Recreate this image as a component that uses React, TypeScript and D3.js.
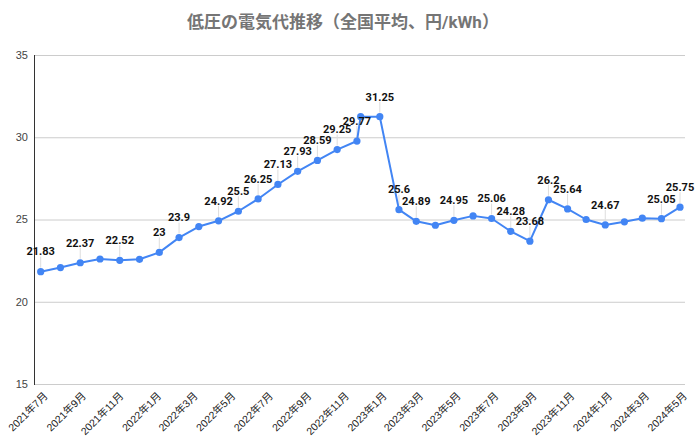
import React from "react";
import * as d3 from "d3";

const title = "低圧の電気代推移（全国平均、円/kWh）";

// Observation dates (as placed on the reference's date axis)
const dates = [
  "2021-07-01", "2021-08-02", "2021-09-03", "2021-10-05", "2021-11-06", "2021-12-08",
  "2022-01-09", "2022-02-10", "2022-03-14", "2022-04-15", "2022-05-17", "2022-06-18",
  "2022-07-20", "2022-08-21", "2022-09-22", "2022-10-24", "2022-11-25",
  "2022-12-01", "2023-01-01", "2023-02-01", "2023-03-01", "2023-04-01", "2023-05-01",
  "2023-06-01", "2023-07-01", "2023-08-01", "2023-09-01", "2023-10-01", "2023-11-01",
  "2023-12-01", "2024-01-01", "2024-02-01", "2024-03-01", "2024-04-01", "2024-05-01",
];

const prices = [
  21.83, 22.08, 22.37, 22.6, 22.52, 22.58,
  23, 23.9, 24.57, 24.92, 25.5, 26.25,
  27.13, 27.93, 28.59, 29.25, 29.77,
  31.25, 31.25, 25.6, 24.89, 24.65, 24.95,
  25.22, 25.06, 24.28, 23.68, 26.2, 25.64,
  25.0, 24.67, 24.86, 25.08, 25.05, 25.75,
];

// indices of points whose data label is displayed
const labeledIdx = [0, 2, 4, 6, 7, 9, 10, 11, 12, 13, 14, 15, 16, 18, 19, 20, 22, 24, 25, 26, 27, 28, 30, 33, 34];

const yTicks = [15, 20, 25, 30, 35];
const xTickMonths = [
  "2021-07", "2021-09", "2021-11", "2022-01", "2022-03", "2022-05", "2022-07", "2022-09", "2022-11",
  "2023-01", "2023-03", "2023-05", "2023-07", "2023-09", "2023-11", "2024-01", "2024-03", "2024-05",
];

const parseDay = d3.timeParse("%Y-%m-%d");
const parseMonth = d3.timeParse("%Y-%m");

const W = 700;
const H = 441;
const plotLeft = 34;
const plotRight = 685;
const plotTop = 55;
const plotBottom = 384;

const LATIN = "Roboto, 'Noto Sans CJK JP', sans-serif";
const AX = "'Liberation Sans', Arial, 'Noto Sans CJK JP', sans-serif";

export default function App() {
  const data = dates.map((d, i) => ({ date: parseDay(d) as Date, v: prices[i], i }));
  const x = d3
    .scaleTime()
    .domain([parseMonth(xTickMonths[0]) as Date, parseMonth(xTickMonths[xTickMonths.length - 1]) as Date])
    .range([40.7, 680]);
  const y = d3.scaleLinear().domain([15, 35]).range([plotBottom, plotTop]);

  const line = d3
    .line<{ date: Date; v: number }>()
    .x((d) => x(d.date))
    .y((d) => y(d.v));

  const fmtTick = (d: Date) => `${d.getFullYear()}年${d.getMonth() + 1}月`;

  return (
    <div style={{ position: "fixed", left: 0, top: 0 }}>
      <svg width={W} height={H} style={{ display: "block", background: "#fff" }}>
        <rect x={0} y={0} width={W} height={H} fill="#fff" />
        <text
          x={343}
          y={28}
          textAnchor="middle"
          fontFamily={LATIN}
          fontWeight="bold"
          fontSize={17}
          fill="#757575"
        >
          {title}
        </text>

        {/* gridlines */}
        {yTicks.map((t) => (
          <g key={t}>
            <line x1={plotLeft} x2={plotRight} y1={y(t) + 0.5} y2={y(t) + 0.5} stroke="#cccccc" strokeWidth={1} />
            <text
              x={28}
              y={y(t)}
              dy="0.35em"
              textAnchor="end"
              fontFamily={AX}
              fontSize={11}
              fill="#444"
            >
              {t}
            </text>
          </g>
        ))}
        <line x1={plotLeft + 0.5} x2={plotLeft + 0.5} y1={plotTop} y2={plotBottom + 1} stroke="#333" strokeWidth={1} />

        {/* x tick labels */}
        {xTickMonths.map((m) => {
          const d = parseMonth(m) as Date;
          const px = x(d);
          return (
            <text
              key={m}
              transform={`translate(${px + 5},${plotBottom + 10}) rotate(-45)`}
              textAnchor="end"
              dy="0.35em"
              fontFamily={AX}
              fontSize={10.5}
              fill="#222"
            >
              {fmtTick(d)}
            </text>
          );
        })}

        {/* leader lines */}
        {labeledIdx.map((i) => {
          const d = data[i];
          return (
            <line
              key={"l" + i}
              x1={x(d.date)}
              x2={x(d.date)}
              y1={y(d.v) - 4}
              y2={y(d.v) - 15}
              stroke="#dddddd"
              strokeWidth={1}
            />
          );
        })}

        <path d={line(data) || ""} fill="none" stroke="#4285F4" strokeWidth={2} strokeLinejoin="round" />
        {data.map((d) => (
          <circle key={d.i} cx={x(d.date)} cy={y(d.v)} r={3.6} fill="#4285F4" />
        ))}

        {labeledIdx.map((i) => {
          const d = data[i];
          return (
            <text
              key={"t" + i}
              x={x(d.date)}
              y={y(d.v) - 20}
              dy="0.35em"
              textAnchor="middle"
              fontFamily={LATIN}
              fontWeight="bold"
              fontSize={11}
              fill="#111"
            >
              {String(d.v)}
            </text>
          );
        })}
      </svg>
    </div>
  );
}
